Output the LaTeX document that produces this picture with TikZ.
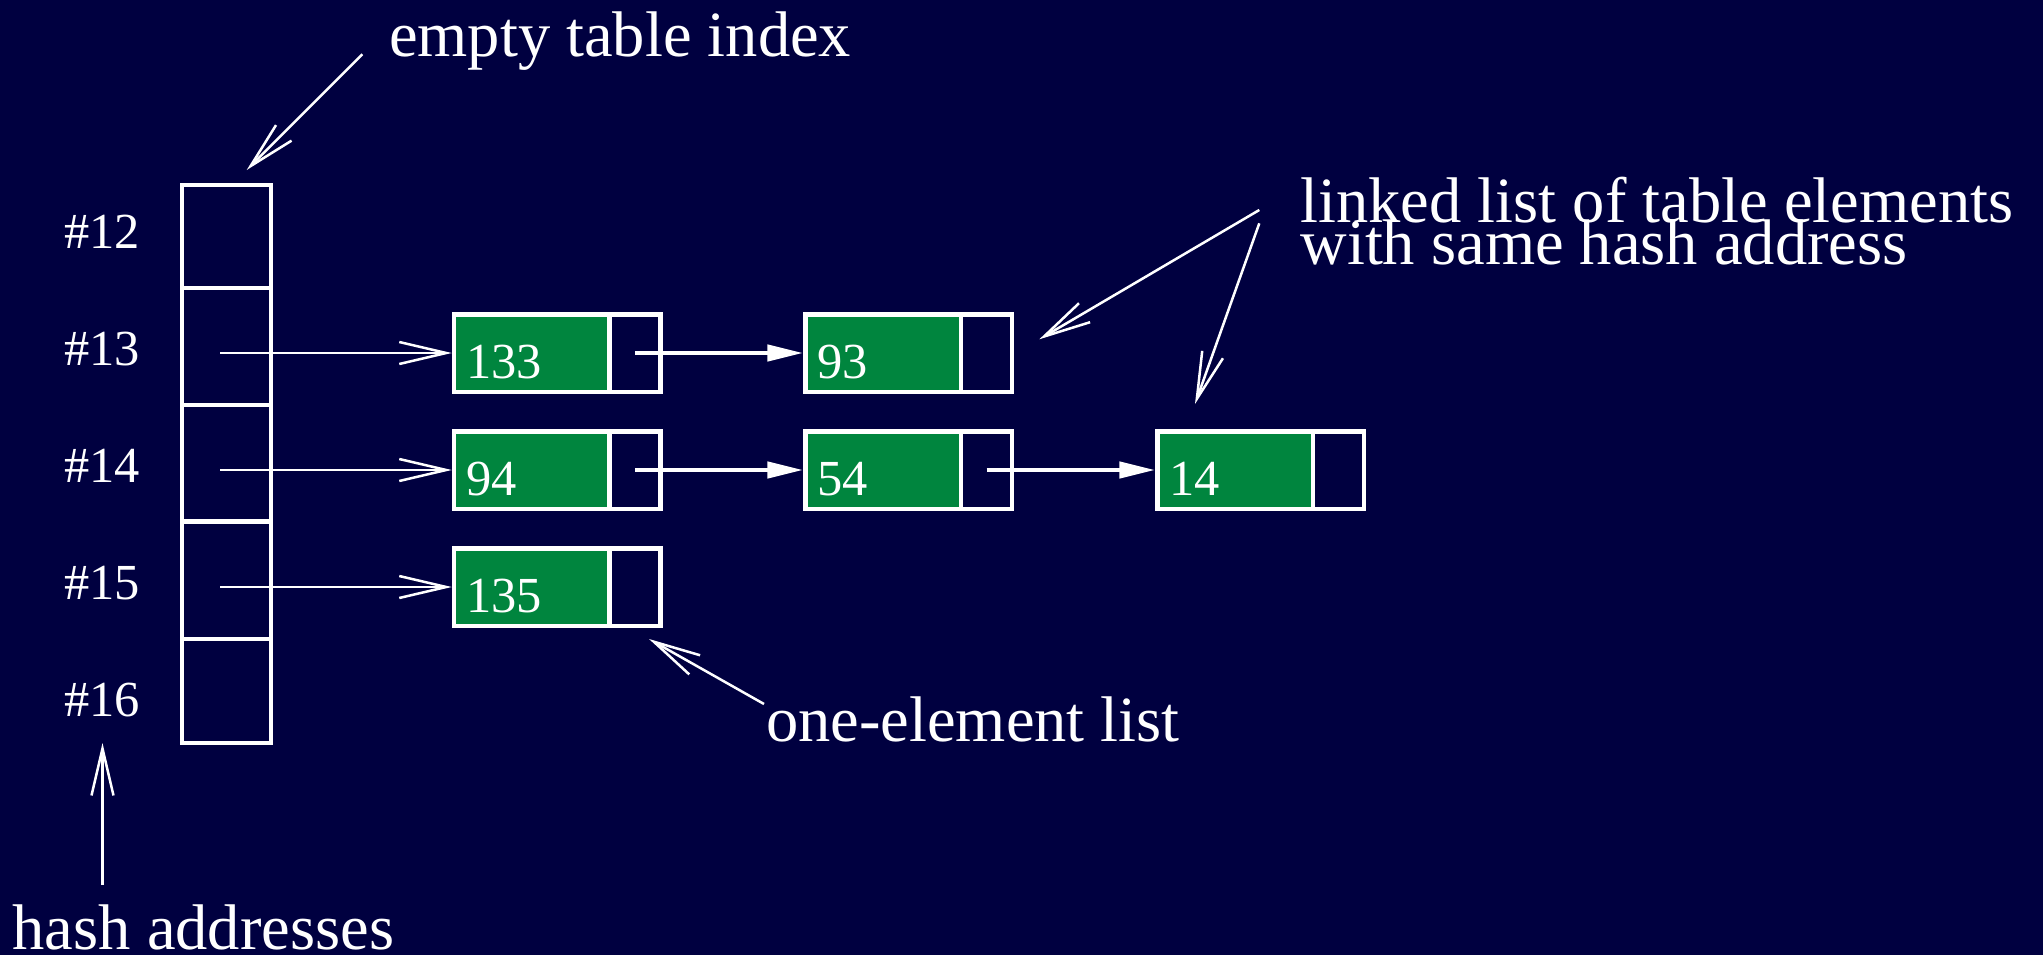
\documentclass[tikz,border=0pt]{standalone}
\usepackage{fontspec}
\setmainfont{Liberation Serif}
\usetikzlibrary{arrows.meta}
\definecolor{bg}{RGB}{0,0,64}
\definecolor{elgreen}{RGB}{0,133,62}
\begin{document}
\begin{tikzpicture}[x=1pt,y=-1pt,
  cell/.style={draw=white,line width=4.5pt,rectangle,inner sep=0pt,outer sep=0pt,minimum width=89pt},
  valbox/.style={draw=white,fill=elgreen,line width=4.5pt,rectangle,inner sep=0pt,minimum width=155.5pt,minimum height=77.5pt},
  ptrbox/.style={draw=white,line width=4.5pt,rectangle,inner sep=0pt,minimum width=51pt,minimum height=77.5pt},
  numtext/.style={text=white,font=\fontsize{50.5}{60}\selectfont,inner sep=0pt,outer sep=0pt,anchor=base west},
  lbl/.style={text=white,font=\fontsize{64.5}{70}\selectfont,inner sep=0pt,outer sep=0pt,anchor=base west},
  thinarrow/.style={draw=white,line width=2.5pt,-{Straight Barb[length=47pt,width=22pt]}},
  linkarrow/.style={draw=white,line width=4.5pt,-{Triangle[length=36pt,width=16pt]}}
]
\path[use as bounding box,fill=bg] (0,0) rectangle (2043,955);

% hash table column
\node[cell,minimum height=103pt]   (c12) at (226.5,236.5) {};
\node[cell,minimum height=117pt]   (c13) at (226.5,346.5) {};
\node[cell,minimum height=116.5pt] (c14) at (226.5,463.25) {};
\node[cell,minimum height=117.5pt] (c15) at (226.5,580.25) {};
\node[cell,minimum height=104pt]   (c16) at (226.5,691) {};

% hash address labels
\node[numtext] (h12) at (64,248) {\#12};
\node[numtext] (h13) at (64,365) {\#13};
\node[numtext] (h14) at (64,482) {\#14};
\node[numtext] (h15) at (64,599) {\#15};
\node[numtext] (h16) at (64,716) {\#16};

% elements, row 13
\node[valbox] (v133) at (531.75,353) {};
\node[ptrbox] (p133) at (635,353) {};
\node[numtext] (t133) at (466,378) {133};
\node[valbox] (v93) at (883.25,353) {};
\node[ptrbox] (p93) at (986.5,353) {};
\node[numtext] (t93) at (817.5,378) {93};

% elements, row 14
\node[valbox] (v94) at (531.75,470) {};
\node[ptrbox] (p94) at (635,470) {};
\node[numtext] (t94) at (466,495) {94};
\node[valbox] (v54) at (883.25,470) {};
\node[ptrbox] (p54) at (986.5,470) {};
\node[numtext] (t54) at (817.5,495) {54};
\node[valbox] (v14) at (1235.25,470) {};
\node[ptrbox] (p14) at (1338.5,470) {};
\node[numtext] (t14) at (1169.5,495) {14};

% elements, row 15
\node[valbox] (v135) at (531.75,587) {};
\node[ptrbox] (p135) at (635,587) {};
\node[numtext] (t135) at (466,612) {135};

% pointers from table
\draw[thinarrow] ([xshift=-6.5pt]c13.center |- v133.west) -- (v133.west);
\draw[thinarrow] ([xshift=-6.5pt]c14.center |- v94.west) -- (v94.west);
\draw[thinarrow] ([xshift=-6.5pt]c15.center |- v135.west) -- (v135.west);

% links
\draw[linkarrow] (p133.center) -- (v93.west);
\draw[linkarrow] (p94.center) -- (v54.west);
\draw[linkarrow] (p54.center) -- (v14.west);

% annotation labels
\node[lbl] (lEmpty) at (389,56.7) {empty table index};
\node[lbl] (lLinkA) at (1300.5,222.5) {linked list of table elements};
\node[lbl] (lLinkB) at (1300.5,264.5) {with same hash address};
\node[lbl] (lOne) at (766,741.7) {one-element list};
\node[lbl] (lHash) at (12.7,949.3) {hash addresses};

% annotation arrows
\coordinate (eS) at (362.3,54.3);
\coordinate (eT) at (246.7,170);
\coordinate (kS1) at (1259.3,210);
\coordinate (kT1) at (1039.3,339.3);
\coordinate (kS2) at (1259.3,223.3);
\coordinate (kT2) at (1195,404);
\coordinate (oS) at (764,704);
\coordinate (oT) at (649,639);
\coordinate (hS) at (102.5,885);
\coordinate (hT) at (102.5,743);
\draw[thinarrow] (eS) -- (eT);
\draw[thinarrow] (kS1) -- (kT1);
\draw[thinarrow] (kS2) -- (kT2);
\draw[thinarrow] (oS) -- (oT);
\draw[thinarrow] (hS) -- (hT);
\end{tikzpicture}
\end{document}
